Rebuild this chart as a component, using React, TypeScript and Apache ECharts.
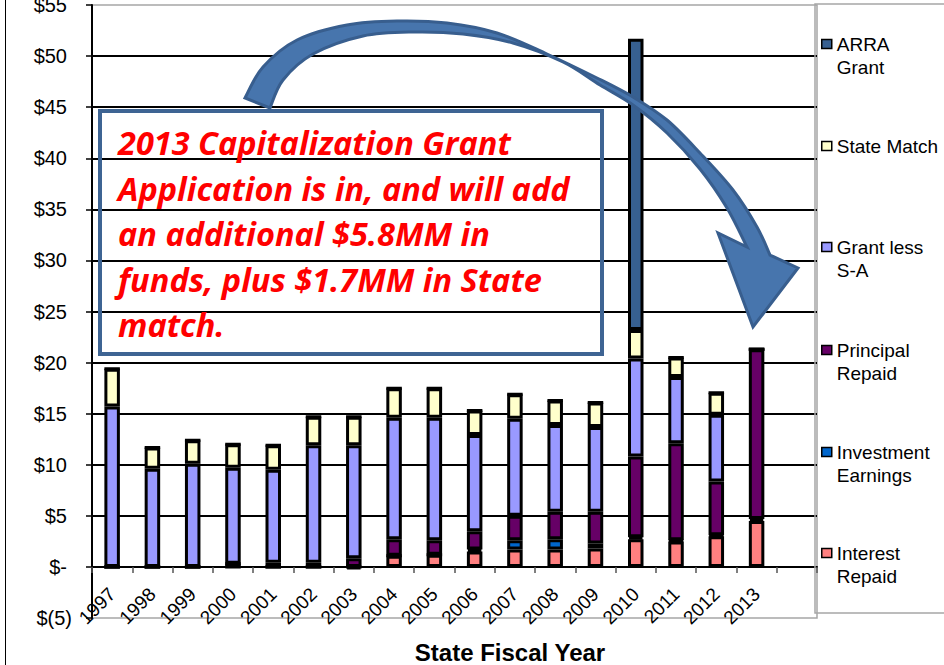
import React, { useEffect, useRef } from 'react';
import * as echarts from 'echarts';

const years = ['1997', '1998', '1999', '2000', '2001', '2002', '2003', '2004', '2005', '2006', '2007', '2008', '2009', '2010', '2011', '2012', '2013', ''];

const interestRepaid = [0, 0, 0, 0, 0, 0, 0, 1.1, 1.2, 1.5, 1.7, 1.7, 1.8, 2.7, 2.5, 3.0, 4.5, null];
const investmentEarnings = [0, 0, 0, 0.3, 0, 0, -0.2, 0, 0, 0.2, 0.9, 1.0, 0.5, 0.2, 0.1, 0.1, 0.2, null];
const principalRepaid = [0, 0, 0, 0, 0.4, 0.4, 0.85, 1.6, 1.4, 1.8, 2.4, 2.7, 3.1, 7.9, 9.5, 5.25, 16.6, null];
const grantLessSA = [15.7, 9.6, 10.1, 9.4, 9.1, 11.5, 11.05, 11.9, 12.0, 9.4, 9.5, 8.5, 8.3, 9.6, 6.5, 6.55, 0, null];
const stateMatch = [3.7, 2.1, 2.3, 2.3, 2.4, 2.8, 2.8, 2.9, 2.9, 2.4, 2.4, 2.4, 2.4, 2.8, 1.9, 2.15, 0, null];
const arraGrant = [0, 0, 0, 0, 0, 0, 0, 0, 0, 0, 0, 0, 0, 28.5, 0, 0, 0, null];

const yMin = -5;
const yMax = 55;
const yStep = 5;

const seriesNames = ['Interest Repaid', 'Investment Earnings', 'Principal Repaid', 'Grant less S-A', 'State Match', 'ARRA Grant'];
const seriesColors = ['#FF8080', '#0066CC', '#660066', '#9999FF', '#FFFFCC', '#376091'];
const seriesData = [interestRepaid, investmentEarnings, principalRepaid, grantLessSA, stateMatch, arraGrant];

const noteLines = [
  '2013 Capitalization Grant',
  'Application is in, and will add',
  'an additional $5.8MM in',
  'funds, plus $1.7MM in State',
  'match.',
];

const FONT = '"Liberation Sans", Arial, sans-serif';

const GRID_LEFT = 92;
const GRID_RIGHT = 127;
const GRID_TOP = 5;
const GRID_BOTTOM = 47;
const CHART_H = 665;

const legendLayout = [
  { name: 'ARRA Grant', lines: ['ARRA', 'Grant'], cy: 44 },
  { name: 'State Match', lines: ['State Match'], cy: 146 },
  { name: 'Grant less S-A', lines: ['Grant less', 'S-A'], cy: 247 },
  { name: 'Principal Repaid', lines: ['Principal', 'Repaid'], cy: 350 },
  { name: 'Investment Earnings', lines: ['Investment', 'Earnings'], cy: 452 },
  { name: 'Interest Repaid', lines: ['Interest', 'Repaid'], cy: 553 },
];

// curved arrow annotation outline
const arrowOuter = [
  [245, 98], [263, 67], [297, 40], [347, 25], [397, 21], [447, 23], [497, 33], [547, 54],
  [597, 78], [633, 97], [667, 120], [700, 153], [733, 190], [757, 227], [770, 255],
];
const arrowHead = [[798, 268], [753, 327], [718, 233]];
const arrowInner = [
  [270, 108], [283, 80], [313, 54], [363, 36], [413, 32], [463, 34], [513, 43], [563, 62],
  [600, 85], [633, 105], [667, 133], [700, 169], [727, 208], [747, 247],
];

function crSegments(pts: number[][]): string {
  let d = '';
  for (let i = 0; i < pts.length - 1; i++) {
    const p0 = pts[i - 1] || pts[i];
    const p1 = pts[i];
    const p2 = pts[i + 1];
    const p3 = pts[i + 2] || pts[i + 1];
    const c1x = p1[0] + (p2[0] - p0[0]) / 6;
    const c1y = p1[1] + (p2[1] - p0[1]) / 6;
    const c2x = p2[0] - (p3[0] - p1[0]) / 6;
    const c2y = p2[1] - (p3[1] - p1[1]) / 6;
    d += ` C ${c1x.toFixed(2)} ${c1y.toFixed(2)} ${c2x.toFixed(2)} ${c2y.toFixed(2)} ${p2[0]} ${p2[1]}`;
  }
  return d;
}

function arrowPath(): string {
  const innerRev = arrowInner.slice().reverse();
  let d = `M ${arrowOuter[0][0]} ${arrowOuter[0][1]}`;
  d += crSegments(arrowOuter);
  arrowHead.forEach((p) => {
    d += ` L ${p[0]} ${p[1]}`;
  });
  d += ` L ${innerRev[0][0]} ${innerRev[0][1]}`;
  d += crSegments(innerRev);
  d += ' Z';
  return d;
}

export default function App() {
  const ref = useRef<HTMLDivElement>(null);

  useEffect(() => {
    document.body.style.margin = '0';
    echarts.graphic.registerShape('curvedArrow', echarts.graphic.extendPath(arrowPath(), {}) as any);
    const chart = echarts.init(ref.current!, null, { renderer: 'svg' });

    const plotH = CHART_H - GRID_TOP - GRID_BOTTOM;
    const zeroOffset = -plotH * (0 - yMin) / (yMax - yMin);

    const option: any = {
      animation: false,
      backgroundColor: '#fff',
      grid: {
        left: GRID_LEFT,
        right: GRID_RIGHT,
        top: GRID_TOP,
        bottom: GRID_BOTTOM,
        outerBoundsMode: 'none',
        containLabel: false,
        show: true,
        borderColor: '#A6A6A6',
        borderWidth: 1.5,
        backgroundColor: 'transparent',
      },
      legend: legendLayout.map((it) => ({
        data: [it.name],
        orient: 'vertical',
        left: 821,
        top: it.lines.length === 2 ? it.cy - 34.5 : it.cy - 11.5,
        padding: 0,
        itemWidth: 10,
        itemHeight: 9,
        icon: 'rect',
        selectedMode: false,
        itemStyle: { borderColor: '#000', borderWidth: 1.5 },
        textStyle: { fontSize: 19, fontFamily: FONT, color: '#000', lineHeight: 23 },
        formatter: () => (it.lines.length === 2 ? '\n' + it.lines.join('\n') : it.lines[0]),
      })),
      xAxis: {
        type: 'category',
        data: years,
        position: 'bottom',
        offset: zeroOffset,
        axisLine: { show: true, onZero: false, lineStyle: { color: '#000', width: 2 } },
        axisTick: { show: true, length: 6, lineStyle: { color: '#555', width: 1.5 } },
        axisLabel: {
          rotate: 45,
          margin: 24,
          interval: 0,
          fontSize: 19,
          fontFamily: FONT,
          color: '#000',
        },
        splitLine: { show: false },
      },
      yAxis: {
        type: 'value',
        min: yMin,
        max: yMax,
        interval: yStep,
        axisLine: { show: true, lineStyle: { color: '#000', width: 2 } },
        axisTick: { show: true, length: 6, lineStyle: { color: '#000', width: 1.5 } },
        splitLine: {
          show: true,
          showMinLine: false,
          showMaxLine: false,
          lineStyle: { color: '#000', width: 2 },
        },
        axisLabel: {
          margin: 20,
          fontSize: 20,
          fontFamily: FONT,
          color: '#000',
          formatter: (v: number) => (v < 0 ? '$(' + -v + ')' : v === 0 ? '{p|$-}' : '{p|$' + v + '}'),
          rich: { p: { padding: [0, 5, 0, 0], fontSize: 20, fontFamily: FONT, color: '#000' } },
        },
      },
      series: seriesNames.map((name, i) => ({
        name,
        type: 'bar',
        stack: 'total',
        barWidth: 15.5,
        data: seriesData[i],
        itemStyle: { color: seriesColors[i], borderColor: '#000', borderWidth: 3 },
        emphasis: { disabled: true },
      })),
      graphic: [
        {
          type: 'line',
          z: 100,
          shape: { x1: 5.5, y1: 0, x2: 5.5, y2: 665 },
          style: { stroke: '#000', lineWidth: 1 },
        },
        {
          type: 'rect',
          z: 100,
          shape: { x: 815, y: 4, width: 140, height: 609 },
          style: { fill: 'transparent', stroke: '#A6A6A6', lineWidth: 1.5 },
        },
        {
          type: 'rect',
          z: 100,
          shape: { x: 100, y: 111, width: 502, height: 243 },
          style: { fill: 'transparent', stroke: '#3E6493', lineWidth: 4 },
        },
        {
          type: 'text',
          z: 101,
          x: 118,
          y: 120,
          style: {
            text: noteLines.join('\n'),
            fontFamily: '"Open Sans", Lato, sans-serif',
            fontWeight: 'bold',
            fontStyle: 'italic',
            fontSize: 32.5,
            lineHeight: 45.5,
            fill: '#FF0000',
            verticalAlign: 'top',
            align: 'left',
          },
        },
        {
          type: 'curvedArrow',
          z: 102,
          x: 0,
          y: 0,
          scaleX: 1,
          scaleY: 1,
          style: { fill: '#4775AD', stroke: '#385E8E', lineWidth: 3, lineJoin: 'miter' },
        },
        {
          type: 'text',
          z: 100,
          x: 510,
          y: 652,
          style: {
            text: 'State Fiscal Year',
            fontFamily: FONT,
            fontWeight: 'bold',
            fontSize: 24,
            fill: '#000',
            align: 'center',
            verticalAlign: 'middle',
          },
        },
      ],
    };

    chart.setOption(option);
    return () => chart.dispose();
  }, []);

  return <div ref={ref} style={{ position: 'absolute', left: 0, top: 0, width: 944, height: 665 }} />;
}
